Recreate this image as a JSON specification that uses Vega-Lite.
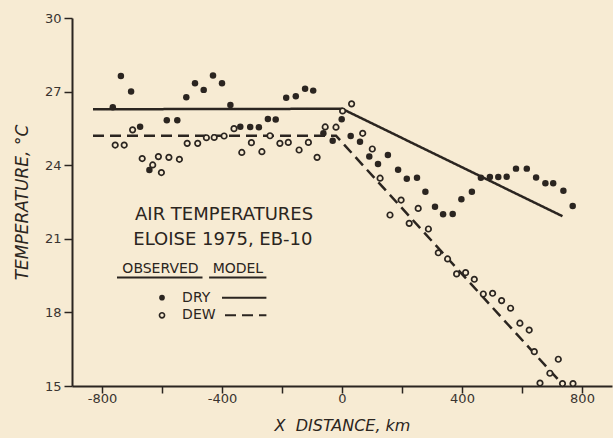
{
  "$schema": "https://vega.github.io/schema/vega-lite/v6.json",
  "width": 540,
  "height": 368,
  "autosize": "none",
  "padding": {"left": 72, "top": 18, "right": 1, "bottom": 52},
  "background": "#f7ebd3",
  "config": {"view": {"stroke": null}, "font": "DejaVu Sans"},
  "datasets": {
    "dry": [
      {"x": -764, "t": 26.36}, {"x": -737, "t": 27.64}, {"x": -703, "t": 27.0}, {"x": -673, "t": 25.57},
      {"x": -642, "t": 23.8}, {"x": -584, "t": 25.83}, {"x": -549, "t": 25.83}, {"x": -519, "t": 26.77},
      {"x": -490, "t": 27.34}, {"x": -461, "t": 27.07}, {"x": -430, "t": 27.66}, {"x": -400, "t": 27.34},
      {"x": -372, "t": 26.45}, {"x": -339, "t": 25.57}, {"x": -306, "t": 25.56}, {"x": -277, "t": 25.55},
      {"x": -247, "t": 25.88}, {"x": -221, "t": 25.86}, {"x": -186, "t": 26.75}, {"x": -154, "t": 26.81},
      {"x": -123, "t": 27.12}, {"x": -96, "t": 27.04}, {"x": -62, "t": 25.3}, {"x": -31, "t": 25.0},
      {"x": -1, "t": 25.87}, {"x": 29, "t": 25.19}, {"x": 60, "t": 24.96}, {"x": 91, "t": 24.35},
      {"x": 120, "t": 24.05}, {"x": 153, "t": 24.42}, {"x": 187, "t": 23.81}, {"x": 216, "t": 23.45},
      {"x": 250, "t": 23.49}, {"x": 278, "t": 22.92}, {"x": 310, "t": 22.31}, {"x": 337, "t": 22.0},
      {"x": 369, "t": 22.01}, {"x": 398, "t": 22.61}, {"x": 433, "t": 22.92}, {"x": 463, "t": 23.49},
      {"x": 493, "t": 23.52}, {"x": 521, "t": 23.52}, {"x": 549, "t": 23.53}, {"x": 580, "t": 23.86},
      {"x": 616, "t": 23.86}, {"x": 647, "t": 23.5}, {"x": 678, "t": 23.26}, {"x": 704, "t": 23.26},
      {"x": 738, "t": 22.96}, {"x": 769, "t": 22.34}
    ],
    "dew": [
      {"x": -756, "t": 24.82}, {"x": -726, "t": 24.82}, {"x": -698, "t": 25.44}, {"x": -666, "t": 24.27},
      {"x": -631, "t": 24.01}, {"x": -612, "t": 24.35}, {"x": -602, "t": 23.7}, {"x": -577, "t": 24.32},
      {"x": -542, "t": 24.24}, {"x": -516, "t": 24.89}, {"x": -481, "t": 24.89}, {"x": -452, "t": 25.12},
      {"x": -426, "t": 25.13}, {"x": -393, "t": 25.19}, {"x": -360, "t": 25.49}, {"x": -334, "t": 24.52},
      {"x": -302, "t": 24.92}, {"x": -267, "t": 24.55}, {"x": -240, "t": 25.2}, {"x": -207, "t": 24.89},
      {"x": -179, "t": 24.93}, {"x": -143, "t": 24.62}, {"x": -112, "t": 24.93}, {"x": -83, "t": 24.32},
      {"x": -56, "t": 25.56}, {"x": -20, "t": 25.55}, {"x": 2, "t": 26.21}, {"x": 32, "t": 26.5},
      {"x": 69, "t": 25.3}, {"x": 101, "t": 24.66}, {"x": 127, "t": 23.47}, {"x": 160, "t": 21.97},
      {"x": 197, "t": 22.58}, {"x": 224, "t": 21.63}, {"x": 254, "t": 22.24}, {"x": 288, "t": 21.4},
      {"x": 321, "t": 20.43}, {"x": 352, "t": 20.18}, {"x": 382, "t": 19.57}, {"x": 412, "t": 19.62},
      {"x": 441, "t": 19.35}, {"x": 471, "t": 18.75}, {"x": 502, "t": 18.78}, {"x": 532, "t": 18.48},
      {"x": 562, "t": 18.17}, {"x": 593, "t": 17.56}, {"x": 624, "t": 17.28}, {"x": 641, "t": 16.4},
      {"x": 660, "t": 15.12}, {"x": 693, "t": 15.52}, {"x": 721, "t": 16.09}, {"x": 735, "t": 15.1},
      {"x": 770, "t": 15.1}
    ],
    "model": [
      {"series": "DRY", "x": -830, "t": 26.28}, {"series": "DRY", "x": 0, "t": 26.3}, {"series": "DRY", "x": 735, "t": 21.92},
      {"series": "DEW", "x": -830, "t": 25.2}, {"series": "DEW", "x": -20, "t": 25.2}, {"series": "DEW", "x": 740, "t": 15.0}
    ],
    "titles": [
      {"label": "AIR TEMPERATURES", "x": -393, "t": 21.95},
      {"label": "ELOISE 1975, EB-10", "x": -397, "t": 20.95}
    ],
    "heads": [
      {"label": "OBSERVED", "x": -605, "t": 19.75},
      {"label": "MODEL", "x": -347, "t": 19.75}
    ],
    "underlines": [
      {"x": -750, "x2": -465, "t": 19.42},
      {"x": -443, "x2": -252, "t": 19.42}
    ],
    "keys": [
      {"label": "DRY", "x": -533, "t": 18.6},
      {"label": "DEW", "x": -533, "t": 17.88}
    ],
    "keylines": [
      {"series": "DRY", "x": -400, "x2": -252, "t": 18.6},
      {"series": "DEW", "x": -390, "x2": -252, "t": 17.88}
    ],
    "keydry": [{"x": -600, "t": 18.6}],
    "keydew": [{"x": -600, "t": 17.88}]
  },
  "encoding": {
    "x": {
      "field": "x", "type": "quantitative",
      "scale": {"domain": [-900, 900], "nice": false, "zero": false},
      "axis": {
        "title": "X\u00a0\u00a0DISTANCE, km",
        "values": [-800, -600, -400, -200, 0, 200, 400, 600, 800],
        "labelExpr": "datum.value % 400 == 0 ? '' + datum.value : ''",
        "grid": false, "ticks": true, "tickSize": 7, "tickWidth": 1.5, "tickColor": "#2b2520",
        "domainColor": "#2b2520", "domainWidth": 2,
        "labelFontSize": 13, "labelColor": "#3a3430", "labelPadding": -1, "labelFlush": false,
        "labelFont": "DejaVu Sans",
        "titleFontSize": 16, "titleFontStyle": "italic", "titleFontWeight": "normal",
        "titleColor": "#2b2520", "titlePadding": 12,
        "encode": {"ticks": {"update": {"y2": {"value": -7}}}}
      }
    },
    "y": {
      "field": "t", "type": "quantitative",
      "scale": {"domain": [15, 30], "nice": false, "zero": false},
      "axis": {
        "title": "TEMPERATURE, °C",
        "values": [15, 18, 21, 24, 27, 30],
        "grid": false, "ticks": true, "tickSize": 8, "tickWidth": 1.5, "tickColor": "#2b2520",
        "domainColor": "#2b2520", "domainWidth": 2,
        "labelFontSize": 13, "labelColor": "#3a3430", "labelPadding": 3, "labelFlush": false,
        "labelFont": "DejaVu Sans",
        "titleFontSize": 17, "titleFontStyle": "italic", "titleFontWeight": "normal",
        "titleColor": "#2b2520", "titlePadding": 13,
        "encode": {"ticks": {"update": {"x2": {"value": 8}}}}
      }
    }
  },
  "layer": [
    {
      "data": {"name": "model"},
      "mark": {"type": "line", "color": "#2b2520", "strokeWidth": 2.5},
      "encoding": {
        "detail": {"field": "series"},
        "strokeDash": {"field": "series", "type": "nominal", "scale": {"domain": ["DRY", "DEW"], "range": [[1, 0], [11, 6]]}, "legend": null}
      }
    },
    {
      "data": {"name": "dry"},
      "mark": {"type": "point", "shape": "circle", "filled": true, "color": "#2b2520", "size": 42, "opacity": 1}
    },
    {
      "data": {"name": "dew"},
      "mark": {"type": "point", "shape": "circle", "filled": true, "fill": "#f7ebd3", "stroke": "#2b2520", "strokeWidth": 1.7, "size": 30, "opacity": 1}
    },
    {
      "data": {"name": "titles"},
      "mark": {"type": "text", "align": "center", "baseline": "middle", "fontSize": 18, "color": "#2b2520", "font": "DejaVu Sans"},
      "encoding": {"text": {"field": "label"}}
    },
    {
      "data": {"name": "heads"},
      "mark": {"type": "text", "align": "center", "baseline": "middle", "fontSize": 14, "color": "#2b2520", "font": "DejaVu Sans"},
      "encoding": {"text": {"field": "label"}}
    },
    {
      "data": {"name": "underlines"},
      "mark": {"type": "rule", "color": "#2b2520", "strokeWidth": 2},
      "encoding": {"x2": {"field": "x2"}}
    },
    {
      "data": {"name": "keys"},
      "mark": {"type": "text", "align": "left", "baseline": "middle", "fontSize": 14, "color": "#2b2520", "font": "DejaVu Sans"},
      "encoding": {"text": {"field": "label"}}
    },
    {
      "data": {"name": "keylines"},
      "mark": {"type": "rule", "color": "#2b2520", "strokeWidth": 2},
      "encoding": {
        "x2": {"field": "x2"},
        "strokeDash": {"field": "series", "type": "nominal", "scale": {"domain": ["DRY", "DEW"], "range": [[1, 0], [11, 6]]}, "legend": null}
      }
    },
    {
      "data": {"name": "keydry"},
      "mark": {"type": "point", "shape": "circle", "filled": true, "color": "#2b2520", "size": 32, "opacity": 1}
    },
    {
      "data": {"name": "keydew"},
      "mark": {"type": "point", "shape": "circle", "filled": true, "fill": "#f7ebd3", "stroke": "#2b2520", "strokeWidth": 1.6, "size": 26, "opacity": 1}
    }
  ]
}
